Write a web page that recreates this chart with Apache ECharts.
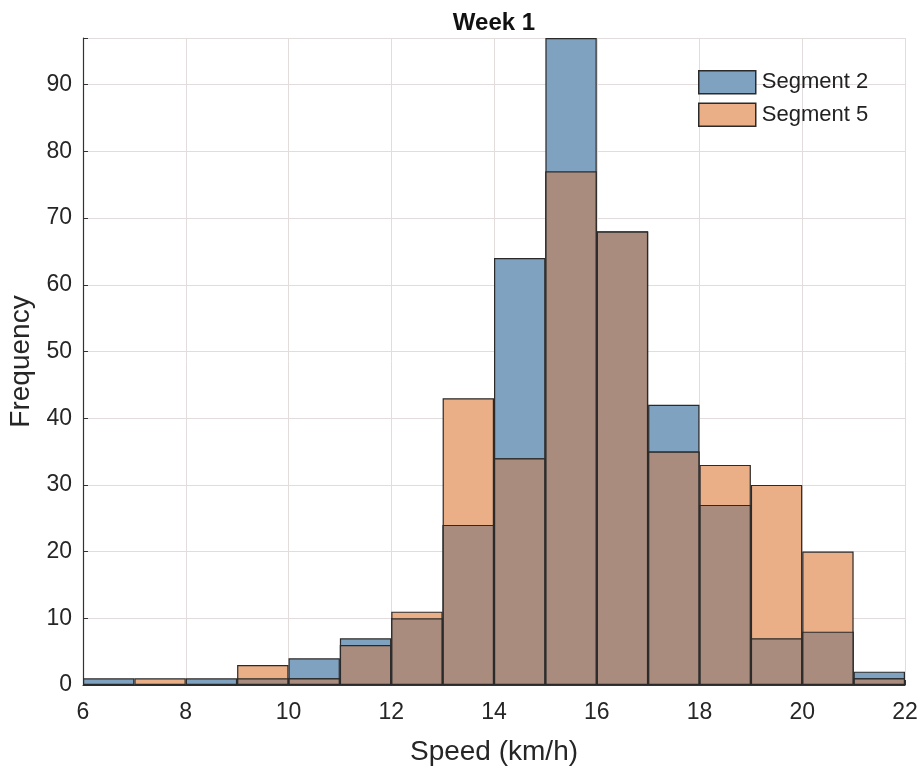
<!DOCTYPE html>
<html><head><meta charset="utf-8">
<script src="https://cdn.jsdelivr.net/npm/echarts@6/dist/echarts.min.js"></script>
<style>html,body{margin:0;padding:0;background:#fff}#c{width:922px;height:768px}</style>
</head><body><div id="c"></div>
<script>
const binStarts = [6,7,8,9,10,11,12,13,14,15,16,17,18,19,20,21];
const segment2 = [1,0,1,1,4,7,10,24,64,97,68,42,27,7,8,2];
const segment5 = [0,1,0,3,1,6,11,43,34,77,68,35,33,30,20,1];
const xTicks = [6,8,10,12,14,16,18,20,22];
const yTicks = [0,10,20,30,40,50,60,70,80,90];

const overlap = segment2.map((v,i)=>Math.min(v, segment5[i]));
const font = '"Liberation Sans", Arial, sans-serif';
const edge = '#2a2a2a';
const chart = echarts.init(document.getElementById('c'));
chart.setOption({
  animation:false,
  backgroundColor:'#fff',
  title:{text:'Week 1', left:494, top:11, textAlign:'center', padding:0,
    textStyle:{fontFamily:font,fontWeight:'bold',fontSize:24,color:'#111'}},
  legend:{
    data:['Segment 2','Segment 5'], orient:'vertical', left:698, top:70, padding:0,
    itemWidth:57, itemHeight:23, itemGap:8, icon:'rect',
    textStyle:{fontFamily:font,fontSize:22,color:'#222',padding:[0,0,0,1]},
    itemStyle:{borderColor:edge,borderWidth:1.5}
  },
  grid:{left:83,right:17,top:38,bottom:83,containLabel:false,outerBoundsMode:'none'},
  xAxis:[
    {type:'category', data:binStarts.map(String), show:false, boundaryGap:true},
    {type:'value', min:6, max:22, interval:2, position:'bottom',
      axisLine:{show:true,onZero:false,lineStyle:{color:'#333',width:1.2}},
      axisTick:{show:true,inside:true,length:5,lineStyle:{color:'#333'}},
      axisLabel:{fontFamily:font,fontSize:23,color:'#262626',margin:16,
        formatter:v=>xTicks.includes(v)?String(v):''},
      splitLine:{show:true,lineStyle:{color:'#e2dcdc',width:1}},
      name:'Speed (km/h)', nameLocation:'middle', nameGap:53,
      nameTextStyle:{fontFamily:font,fontSize:28,color:'#262626'}}
  ],
  yAxis:{type:'value', min:0, max:97, interval:10,
    axisLine:{show:true,lineStyle:{color:'#333',width:1.2}},
    axisTick:{show:true,inside:true,length:5,lineStyle:{color:'#333'}},
    axisLabel:{fontFamily:font,fontSize:23,color:'#262626',margin:11,
      formatter:v=>yTicks.includes(v)?String(v):''},
    splitLine:{show:true,lineStyle:{color:'#e2dcdc',width:1}},
    name:'Frequency', nameLocation:'middle', nameGap:47,
    nameTextStyle:{fontFamily:font,fontSize:28,color:'#262626'}
  },
  series:[
    {name:'Segment 2', type:'bar', xAxisIndex:0, data:segment2, barWidth:'100%', barGap:'-100%',
      itemStyle:{color:'#7fa2c1',borderColor:edge,borderWidth:1.2}},
    {name:'Segment 5', type:'bar', xAxisIndex:0, data:segment5, barWidth:'100%', barGap:'-100%',
      itemStyle:{color:'#ebaf87',borderColor:edge,borderWidth:1.2}},
    {name:'Overlap', type:'bar', xAxisIndex:0, data:overlap, barWidth:'100%', barGap:'-100%',
      itemStyle:{color:'#a98c7e',borderColor:edge,borderWidth:1.2}}
  ]
});
</script></body></html>
